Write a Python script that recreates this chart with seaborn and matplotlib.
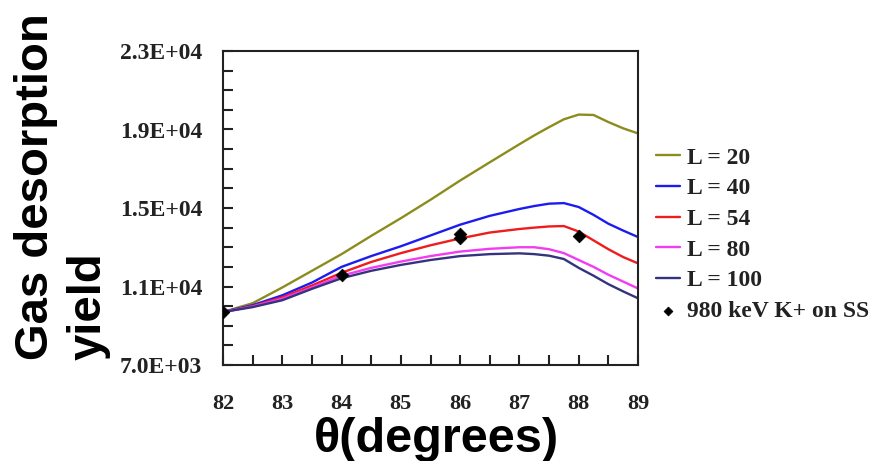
import numpy as np
import pandas as pd
import matplotlib
matplotlib.use("Agg")
import matplotlib.pyplot as plt
from matplotlib.ticker import MultipleLocator, FixedLocator, FuncFormatter
import seaborn as sns

# Incidence angle (degrees) at which the simulated yields are tabulated
theta = [82, 82.5, 83, 83.5, 84, 84.5, 85, 85.5, 86, 86.5,
         87, 87.25, 87.5, 87.75, 88, 88.25, 88.5, 88.75, 89]

# Simulated gas desorption yield for each surface roughness parameter L
yield_L20 = [9700, 10150, 10950, 11800, 12650, 13580, 14480, 15420, 16400, 17330,
             18250, 18700, 19120, 19520, 19760, 19740, 19380, 19060, 18800]
yield_L40 = [9700, 10050, 10550, 11200, 12000, 12550, 13050, 13600, 14150, 14600,
             14950, 15100, 15220, 15250, 15050, 14650, 14200, 13850, 13520]
yield_L54 = [9700, 10000, 10450, 11050, 11700, 12250, 12700, 13100, 13450, 13750,
             13930, 14000, 14060, 14080, 13800, 13350, 12900, 12500, 12180]
yield_L80 = [9700, 9980, 10380, 10950, 11550, 11950, 12270, 12550, 12780, 12920,
             13000, 13000, 12900, 12700, 12350, 12000, 11600, 11250, 10900]
yield_L100 = [9700, 9950, 10300, 10880, 11420, 11800, 12100, 12350, 12550, 12650,
              12690, 12650, 12570, 12400, 11950, 11550, 11120, 10750, 10400]

series_names = ["L = 20", "L = 40", "L = 54", "L = 80", "L = 100"]
series_values = [yield_L20, yield_L40, yield_L54, yield_L80, yield_L100]
series_colors = ["#8c8c1e", "#1c1cf0", "#ee1c1c", "#f23cf2", "#34347e"]

# Measured yields, 980 keV K+ on stainless steel
meas_theta = [82, 84, 86, 86, 88]
meas_yield = [9700, 11600, 13680, 13480, 13550]
meas_label = "980 keV K+ on SS"

x_ticks = [82, 83, 84, 85, 86, 87, 88, 89]
y_ticks = [7000, 11000, 15000, 19000, 23000]

sns.set_style("ticks")
plt.rcParams["font.family"] = ["Liberation Serif", "DejaVu Serif"]

fig = plt.figure(figsize=(8.78, 4.61), dpi=100)
ax = fig.add_axes([223 / 878, 96 / 461, 415 / 878, 314 / 461])

for name, vals, col in zip(series_names, series_values, series_colors):
    sns.lineplot(x=theta, y=vals, color=col, linewidth=1.7, label=name, ax=ax)

sns.scatterplot(x=meas_theta, y=meas_yield, marker="D", s=42, color="black",
                edgecolor="black", linewidth=0.5, label=meas_label, ax=ax, zorder=5)

ax.set_xlim(82, 89)
ax.set_ylim(7000, 23000)

ax.xaxis.set_major_locator(FixedLocator(x_ticks))
ax.xaxis.set_minor_locator(MultipleLocator(0.5))
ax.yaxis.set_major_locator(FixedLocator(y_ticks))
ax.yaxis.set_minor_locator(MultipleLocator(1000))
ax.yaxis.set_major_formatter(FuncFormatter(lambda v, p: f"{v:.1E}"))
ax.xaxis.set_major_formatter(FuncFormatter(lambda v, p: f"{v:.0f}"))

ax.tick_params(axis="both", which="both", direction="in", length=7, width=1.5,
               color="#222222", top=False, right=False)
ax.tick_params(axis="y", which="major", pad=15, labelsize=17)
ax.tick_params(axis="x", which="major", pad=21, labelsize=16)
for lab in ax.get_xticklabels() + ax.get_yticklabels():
    lab.set_fontweight("bold")
    lab.set_color("#222222")

for sp in ax.spines.values():
    sp.set_visible(True)
    sp.set_linewidth(1.5)
    sp.set_color("#222222")

ax.set_xlabel("")
ax.set_ylabel("")

handles, labels = ax.get_legend_handles_labels()
leg = ax.legend(handles, labels, loc="upper left", bbox_to_anchor=(656 / 878, 1 - 147 / 461),
                bbox_transform=fig.transFigure, frameon=False,
                prop={"family": ["Liberation Serif"], "weight": "bold", "size": 17},
                handlelength=1.0, handletextpad=0.3, labelspacing=0.39, borderpad=0.0,
                borderaxespad=0.0, markerscale=0.7)
for t in leg.get_texts():
    t.set_color("#222222")

# Axis titles in bold sans-serif
fig.text(62 / 878, 101 / 461, "Gas desorption\nyield", rotation=90,
         ha="center", va="bottom", multialignment="left",
         fontsize=34, fontweight="bold", family=["Liberation Sans", "DejaVu Sans"],
         linespacing=1.25, color="black")
fig.text(436 / 878, 9 / 461, "θ(degrees)", ha="center", va="baseline",
         fontsize=35, fontweight="bold", family=["Liberation Sans", "DejaVu Sans"],
         color="black")

fig.savefig("out.png", dpi=100, facecolor="white")
